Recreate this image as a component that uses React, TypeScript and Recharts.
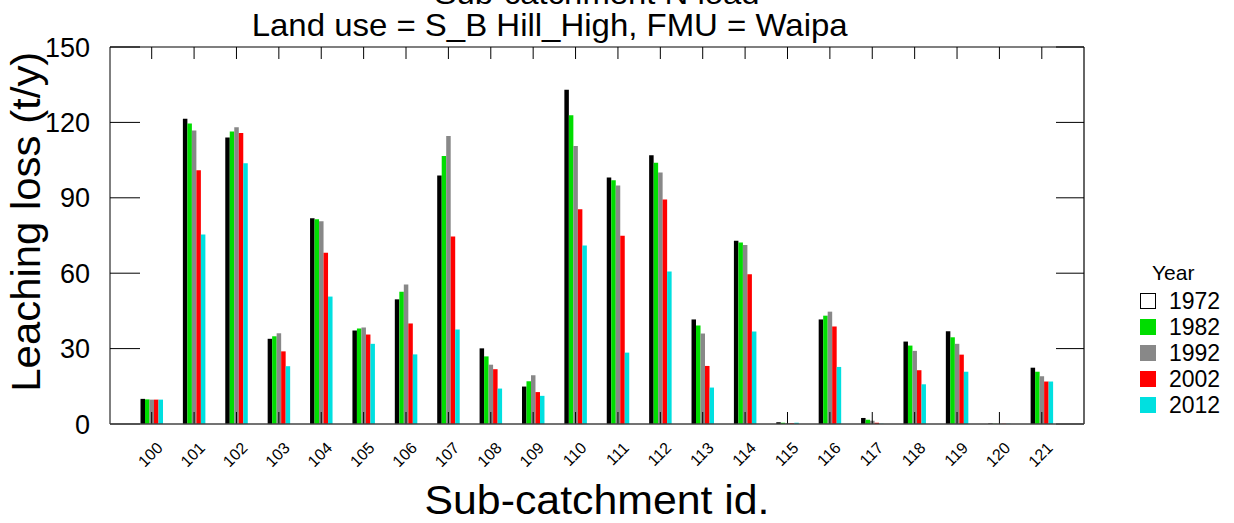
import { BarChart, Bar, XAxis, YAxis, Legend, Label } from "recharts";

const FONT = "'Liberation Sans', Arial, sans-serif";

// sub-catchment ids along the x axis
const subCatchments = [
  "100", "101", "102", "103", "104", "105", "106", "107", "108", "109", "110",
  "111", "112", "113", "114", "115", "116", "117", "118", "119", "120", "121",
];

const years = ["1972", "1982", "1992", "2002", "2012"];
const yearColors = ["#000000", "#00DD00", "#888888", "#FF0000", "#00E0E0"];

// leaching loss (t/y) per sub-catchment, one list per year
const loss1972 = [10.0, 121.5, 114.0, 33.9, 81.9, 37.2, 49.6, 98.9, 30.1, 14.9, 133.0, 98.1, 106.9, 41.6, 72.9, 0.7, 41.6, 2.4, 32.8, 36.9, 0.2, 22.4];
const loss1982 = [9.8, 119.6, 116.4, 34.9, 81.5, 38.0, 52.6, 106.6, 26.9, 17.0, 122.8, 97.0, 103.9, 39.2, 72.2, 0.5, 43.1, 1.7, 31.2, 34.5, 0.1, 20.8];
const loss1992 = [9.7, 116.8, 118.1, 36.1, 80.7, 38.4, 55.5, 114.6, 23.6, 19.4, 110.6, 94.9, 100.1, 36.0, 71.2, 0.4, 44.7, 1.3, 29.1, 31.9, 0.1, 19.0];
const loss2002 = [9.7, 101.0, 115.8, 28.9, 68.1, 35.6, 40.0, 74.6, 21.8, 12.7, 85.4, 74.9, 89.3, 23.1, 59.6, 0.3, 38.8, 0.5, 21.4, 27.6, 0.1, 16.9];
const loss2012 = [9.7, 75.4, 103.7, 23.0, 50.7, 31.9, 27.7, 37.6, 14.1, 11.2, 71.0, 28.4, 60.7, 14.5, 36.8, 0.5, 22.7, 0.1, 15.8, 20.8, 0.1, 16.9];

const yTicks = [0, 30, 60, 90, 120, 150];

const seriesValues = [loss1972, loss1982, loss1992, loss2002, loss2012];

const data = subCatchments.map((id, i) => {
  const row: Record<string, string | number> = { id };
  years.forEach((yr, k) => {
    row["y" + yr] = seriesValues[k][i];
  });
  return row;
});

const xPadding = { left: 20.5, right: 21 };

function SlantTick(props: any) {
  const { x, y, payload } = props;
  const ax = x + 12;
  const ay = y + 25;
  return (
    <text
      x={ax}
      y={ay}
      transform={`rotate(-45 ${ax} ${ay})`}
      textAnchor="end"
      fontSize={16}
      fontFamily={FONT}
      fill="#000"
    >
      {payload.value}
    </text>
  );
}

// tick marks only, no label
const NoLabel = () => <g />;

const renderLegend = () => (
  <div style={{ fontFamily: FONT, color: "#000" }}>
    <div style={{ fontSize: 21, height: 30, lineHeight: "30px", marginLeft: 12 }}>Year</div>
    {years.map((yr, i) => (
      <div key={yr} style={{ display: "flex", alignItems: "center", height: 26 }}>
        <span
          style={{
            display: "inline-block",
            width: 16,
            height: 16,
            boxSizing: "border-box",
            background: i === 0 ? "#ffffff" : yearColors[i],
            border: i === 0 ? "1.5px solid #000" : "none",
          }}
        />
        <span style={{ marginLeft: 13, fontSize: 23 }}>{yr}</span>
      </div>
    ))}
  </div>
);

export default function App() {
  return (
    <div style={{ position: "absolute", left: 0, top: 0, width: 1234, height: 523, background: "#fff" }}>
      <BarChart
        width={1234}
        height={523}
        data={data}
        margin={{ top: 47, right: 150, bottom: 0, left: 0 }}
        barSize={4.5}
        barGap={0}
      >
        {/* inward tick marks and frame */}
        <XAxis
          xAxisId="xb"
          dataKey="id"
          mirror
          interval={0}
          padding={xPadding}
          axisLine={false}
          tickSize={12}
          tickLine={{ stroke: "#000" }}
          tick={NoLabel}
        />
        <XAxis
          xAxisId="xt"
          dataKey="id"
          orientation="top"
          mirror
          interval={0}
          padding={xPadding}
          axisLine={{ stroke: "#555", strokeWidth: 1.5 }}
          tickSize={12}
          tickLine={{ stroke: "#000" }}
          tick={NoLabel}
        />
        <YAxis
          yAxisId="yl"
          type="number"
          domain={[0, 150]}
          ticks={yTicks}
          allowDataOverflow
          mirror
          axisLine={{ stroke: "#000" }}
          tickSize={30}
          tickLine={{ stroke: "#000" }}
          tick={NoLabel}
        />
        <YAxis
          yAxisId="yr"
          type="number"
          orientation="right"
          domain={[0, 150]}
          ticks={yTicks}
          allowDataOverflow
          mirror
          axisLine={{ stroke: "#333", strokeWidth: 1.5 }}
          tickSize={28}
          tickLine={{ stroke: "#000" }}
          tick={NoLabel}
        />

        {/* outer labelled axes */}
        <XAxis
          xAxisId="x"
          dataKey="id"
          height={99}
          interval={0}
          padding={xPadding}
          axisLine={{ stroke: "#444", strokeWidth: 1.5 }}
          tickLine={false}
          tickSize={0}
          tickMargin={0}
          tick={<SlantTick />}
        >
          <Label
            content={() => (
              <text x={597} y={514} textAnchor="middle" fontSize={40} fontFamily={FONT} fill="#000" textLength={345} lengthAdjust="spacingAndGlyphs">
                Sub-catchment id.
              </text>
            )}
          />
        </XAxis>
        <YAxis
          yAxisId="y"
          width={110}
          type="number"
          domain={[0, 150]}
          ticks={yTicks}
          allowDataOverflow
          axisLine={false}
          tickLine={false}
          tickSize={0}
          tickMargin={20}
          tick={{ fontSize: 27, fill: "#000", fontFamily: FONT }}
        >
          <Label
            content={() => (
              <text
                x={40}
                y={221.7}
                transform="rotate(-90 40 221.7)"
                textAnchor="middle"
                fontSize={40}
                fontFamily={FONT}
                fill="#000"
                textLength={340}
                lengthAdjust="spacingAndGlyphs"
              >
                Leaching loss (t/y)
              </text>
            )}
          />
        </YAxis>

        <Legend
          layout="vertical"
          align="center"
          verticalAlign="middle"
          wrapperStyle={{ left: 1140, top: 258, width: 94, height: 165 }}
          content={renderLegend}
        />

        {years.map((yr, i) => (
          <Bar
            key={yr}
            xAxisId="x"
            yAxisId="y"
            dataKey={"y" + yr}
            name={yr}
            fill={yearColors[i]}
            isAnimationActive={false}
          />
        ))}
      </BarChart>

      <svg width={1234} height={60} style={{ position: "absolute", left: 0, top: 0, pointerEvents: "none" }}>
        <text x={597} y={4} textAnchor="middle" fontSize={30} fontFamily={FONT} fill="#000" textLength={325} lengthAdjust="spacingAndGlyphs">
          Sub-catchment N load
        </text>
        <text x={251.7} y={36} fontSize={32} fontFamily={FONT} fill="#000" textLength={596} lengthAdjust="spacingAndGlyphs">
          Land use = S_B Hill_High, FMU = Waipa
        </text>
      </svg>
    </div>
  );
}
